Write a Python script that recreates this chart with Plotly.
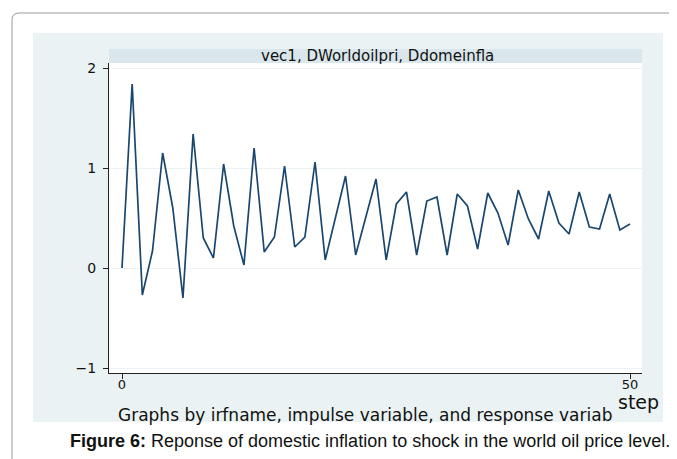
import plotly.graph_objects as go

# ---- data ----
steps = list(range(51))
irf = [0.00, 1.84, -0.27, 0.17, 1.15, 0.60, -0.30, 1.34, 0.30, 0.10,
       1.04, 0.42, 0.03, 1.20, 0.16, 0.31, 1.02, 0.21, 0.31, 1.06,
       0.08, 0.50, 0.92, 0.13, 0.50, 0.89, 0.08, 0.64, 0.76, 0.13,
       0.67, 0.71, 0.13, 0.74, 0.62, 0.19, 0.75, 0.55, 0.23, 0.78,
       0.49, 0.29, 0.77, 0.45, 0.34, 0.76, 0.41, 0.39, 0.74, 0.38,
       0.44]
y_ticks = [-1, 0, 1, 2]
y_tick_text = ["\u22121", "0", "1", "2"]
x_ticks = [0, 50]
panel_title = "vec1, DWorldoilpri, Ddomeinfla"
x_title = "step"
note = "Graphs by irfname, impulse variable, and response variab"
caption_bold = "Figure 6:"
caption_rest = " Reponse of domestic inflation to shock in the world oil price level."

# ---- layout geometry (pixels in the page; the page body adds an 8px offset) ----
OFF = 8
W, H = 677 - OFF, 459 - OFF
L, R, T, B = 109 - OFF, 642 - OFF, 63 - OFF, 373 - OFF
PW, PH = R - L, B - T


def px(x):
    return (x - OFF - L) / PW


def py(y):
    return (B - (y - OFF)) / PH


stata_font = "DejaVu Sans"
region_bg = "#EAF2F3"
band_bg = "#D9E6EB"
line_col = "#1A476F"

fig = go.Figure()
fig.add_trace(go.Scatter(x=steps, y=irf, mode="lines",
                         line=dict(color=line_col, width=1.7),
                         showlegend=False, hoverinfo="skip"))

r = 7
border_path = (f"M {px(12)} {py(480)} L {px(12)} {py(13 + r)} "
               f"Q {px(12)} {py(13)} {px(12 + r)} {py(13)} L {px(700)} {py(13)}")

shapes = [
    dict(type="path", xref="paper", yref="paper", path=border_path,
         line=dict(color="#9a9a9a", width=1), layer="below"),
    dict(type="rect", xref="paper", yref="paper", x0=px(33), x1=px(663),
         y0=py(422), y1=py(33), fillcolor=region_bg, line=dict(width=0),
         layer="below"),
    dict(type="rect", xref="paper", yref="paper", x0=0, x1=1,
         y0=0, y1=1, fillcolor="white", line=dict(width=0), layer="below"),
    dict(type="rect", xref="paper", yref="paper", x0=0, x1=1,
         y0=py(63), y1=py(49), fillcolor=band_bg, line=dict(width=0),
         layer="below"),
]

annotations = [
    dict(text=panel_title, xref="paper", yref="paper", x=px(377), y=py(56),
         xanchor="center", yanchor="middle", showarrow=False,
         font=dict(family=stata_font, size=15, color="#111")),
    dict(text=x_title, xref="paper", yref="paper", x=px(661), y=py(402),
         xanchor="right", yanchor="middle", showarrow=False,
         font=dict(family=stata_font, size=19, color="#111")),
    dict(text=note, xref="paper", yref="paper", x=px(365), y=py(415),
         xanchor="center", yanchor="middle", showarrow=False,
         font=dict(family=stata_font, size=17, color="#111")),
    dict(text=f"<b>{caption_bold}</b>{caption_rest}", xref="paper", yref="paper",
         x=px(68), y=py(441), xanchor="left", yanchor="middle", showarrow=False,
         font=dict(family="Liberation Sans, Arial", size=18, color="#111")),
]

fig.update_layout(
    width=W, height=H,
    margin=dict(l=L, r=W - R, t=T, b=H - B, pad=0),
    paper_bgcolor="white",
    plot_bgcolor="rgba(0,0,0,0)",
    shapes=shapes,
    annotations=annotations,
    showlegend=False,
    xaxis=dict(range=[-1.28, 51.18], tickvals=x_ticks, showgrid=False,
               zeroline=False, showline=True, linecolor="#222", linewidth=1,
               ticks="outside", ticklen=5, tickcolor="#222",
               tickfont=dict(family=stata_font, size=13, color="#111"),
               ticklabelstandoff=-6),
    yaxis=dict(range=[-1.05, 2.05], tickvals=y_ticks, ticktext=y_tick_text,
               showgrid=True, gridcolor=region_bg, gridwidth=1,
               zeroline=False, showline=True, linecolor="#222", linewidth=1,
               ticks="outside", ticklen=5, tickcolor="#222",
               tickfont=dict(family=stata_font, size=14, color="#111"),
               ticklabelstandoff=4),
)

fig.write_html("out.html")
